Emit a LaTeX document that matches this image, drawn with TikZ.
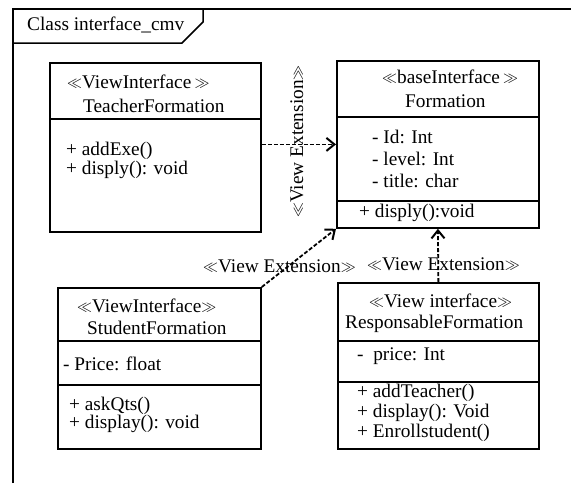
\documentclass[tikz,border=0pt]{standalone}
\usepackage{fontspec}
\setmainfont{Liberation Serif}
\usepackage{graphicx}
\usetikzlibrary{arrows.meta}
% stereotype brackets
\newcommand{\stopen}{\raisebox{0.04em}{\scalebox{0.72}{$\ll$}}}
\newcommand{\stclose}{\raisebox{0.04em}{\scalebox{0.72}{$\gg$}}}

\begin{document}
\begin{tikzpicture}[x=1pt,y=-1pt,
  every node/.style={font=\fontsize{19.3}{20}\selectfont},
  frameline/.style={line width=1.5pt},
  classbox/.style={draw,line width=1.8pt,anchor=north west,inner sep=0pt},
  divider/.style={line width=1.5pt},
  txt/.style={anchor=base west,inner sep=0pt},
  ext/.style={line width=1.8pt,dash pattern=on 4pt off 2pt,
    -{Straight Barb[length=8pt,width=13pt,line width=2pt]}}]
\useasboundingbox (0,0) rectangle (571,483);

% package frame
\draw[frameline] (13,483) -- (13,9) -- (571,9);
\draw[frameline] (13,43) -- (182,43) -- (203,22) -- (203,9);
\node[txt] (title) at (27,30) {Class interface\_cmv};

% TeacherFormation
\node[classbox,minimum width=211pt,minimum height=169pt] (teacher) at (49,62) {};
\draw[divider] (49,119) -- (260,119);
\node[txt] (teacherst) at (67,88) {\stopen ViewInterface\,\stclose};
\node[txt] (teachername) at (83,112) {TeacherFormation};
\node[txt] (teacherop1) at (66,155) {+ addExe()};
\node[txt] (teacherop2) at (66,174) {+ disply(): void};

% Formation
\node[classbox,minimum width=202pt,minimum height=167pt] (formation) at (336,60) {};
\draw[divider] (336,117) -- (538,117);
\draw[divider] (336,201) -- (538,201);
\node[txt] (formst) at (382,83) {\stopen baseInterface\,\stclose};
\node[txt] (formname) at (405,107) {Formation};
\node[txt] (format1) at (372,143) {- Id: Int};
\node[txt] (format2) at (372,165) {- level: Int};
\node[txt] (format3) at (372,187) {- title: char};
\node[txt] (formop1) at (359,217) {+ disply():void};

% StudentFormation
\node[classbox,minimum width=203pt,minimum height=161pt] (student) at (57,287) {};
\draw[divider] (57,341) -- (260,341);
\draw[divider] (57,385) -- (260,385);
\node[txt] (studst) at (77,312) {\stopen ViewInterface\stclose};
\node[txt] (studname) at (87,334) {StudentFormation};
\node[txt] (studat1) at (63,370) {- Price: float};
\node[txt] (studop1) at (69,410) {+ askQts()};
\node[txt] (studop2) at (69,428) {+ display(): void};

% ResponsableFormation
\node[classbox,minimum width=201pt,minimum height=166pt] (resp) at (337,282) {};
\draw[divider] (337,341) -- (538,341);
\draw[divider] (337,382) -- (538,382);
\node[txt] (respst) at (369,307) {\stopen View interface\stclose};
\node[txt] (respname) at (345,328) {ResponsableFormation};
\node[txt] (respat1) at (357,360) {-~~price: Int};
\node[txt] (respop1) at (357,397) {+ addTeacher()};
\node[txt] (respop2) at (357,417) {+ display(): Void};
\node[txt] (respop3) at (357,437) {+ Enrollstudent()};

% view extensions
\draw[ext] (teacher.east |- formation.west) -- (formation.west);
\draw[ext] (student.north east) -- (formation.south west);
\draw[ext] (resp.north) -- (formation.south);
\node[txt,rotate=90] (lab1) at (303,218) {\stopen View Extension\stclose};
\node[txt] (lab2) at (203,272) {\stopen View Extension\stclose};
\node[txt] (lab3) at (367,270) {\stopen View Extension\stclose};
\end{tikzpicture}
\end{document}
